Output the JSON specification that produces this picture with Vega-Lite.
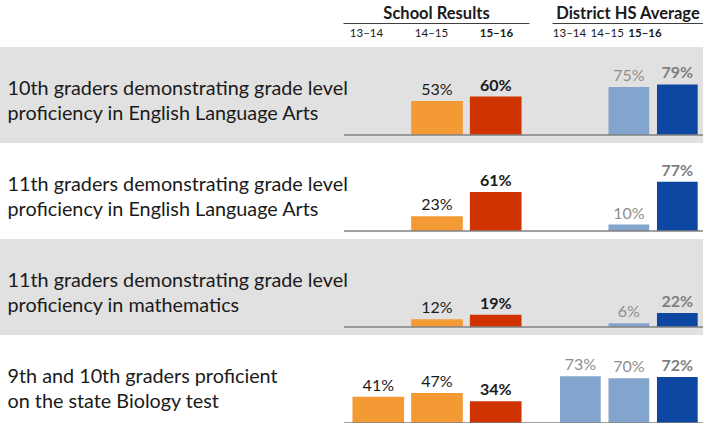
{
  "$schema": "https://vega.github.io/schema/vega-lite/v6.json",
  "width": 703,
  "height": 423,
  "padding": 0,
  "autosize": {"type": "none"},
  "config": {"view": {"stroke": null}, "axis": {"grid": false}},
  "data": {
    "values": [
      {"m": 1, "measure": "10th graders demonstrating grade level\nproficiency in English Language Arts", "group": "School", "year": "14–15", "value": 0.53},
      {"m": 1, "measure": "10th graders demonstrating grade level\nproficiency in English Language Arts", "group": "School", "year": "15–16", "value": 0.60},
      {"m": 1, "measure": "10th graders demonstrating grade level\nproficiency in English Language Arts", "group": "District", "year": "14–15", "value": 0.75},
      {"m": 1, "measure": "10th graders demonstrating grade level\nproficiency in English Language Arts", "group": "District", "year": "15–16", "value": 0.79},
      {"m": 2, "measure": "11th graders demonstrating grade level\nproficiency in English Language Arts", "group": "School", "year": "14–15", "value": 0.23},
      {"m": 2, "measure": "11th graders demonstrating grade level\nproficiency in English Language Arts", "group": "School", "year": "15–16", "value": 0.61},
      {"m": 2, "measure": "11th graders demonstrating grade level\nproficiency in English Language Arts", "group": "District", "year": "14–15", "value": 0.10},
      {"m": 2, "measure": "11th graders demonstrating grade level\nproficiency in English Language Arts", "group": "District", "year": "15–16", "value": 0.77},
      {"m": 3, "measure": "11th graders demonstrating grade level\nproficiency in mathematics", "group": "School", "year": "14–15", "value": 0.12},
      {"m": 3, "measure": "11th graders demonstrating grade level\nproficiency in mathematics", "group": "School", "year": "15–16", "value": 0.19},
      {"m": 3, "measure": "11th graders demonstrating grade level\nproficiency in mathematics", "group": "District", "year": "14–15", "value": 0.06},
      {"m": 3, "measure": "11th graders demonstrating grade level\nproficiency in mathematics", "group": "District", "year": "15–16", "value": 0.22},
      {"m": 4, "measure": "9th and 10th graders proficient\non the state Biology test", "group": "School", "year": "13–14", "value": 0.41},
      {"m": 4, "measure": "9th and 10th graders proficient\non the state Biology test", "group": "School", "year": "14–15", "value": 0.47},
      {"m": 4, "measure": "9th and 10th graders proficient\non the state Biology test", "group": "School", "year": "15–16", "value": 0.34},
      {"m": 4, "measure": "9th and 10th graders proficient\non the state Biology test", "group": "District", "year": "13–14", "value": 0.73},
      {"m": 4, "measure": "9th and 10th graders proficient\non the state Biology test", "group": "District", "year": "14–15", "value": 0.70},
      {"m": 4, "measure": "9th and 10th graders proficient\non the state Biology test", "group": "District", "year": "15–16", "value": 0.72}
    ]
  },
  "layer": [
    {
      "transform": [{"filter": "datum.group === 'District' && datum.year === '15–16'"}],
      "mark": {"type": "rect"},
      "encoding": {
        "y": {"field": "measure", "type": "nominal", "sort": {"field": "m", "op": "min"},
          "scale": {"range": [47, 431], "paddingInner": 0, "paddingOuter": 0},
          "axis": {"orient": "left", "title": null, "domain": false, "ticks": false, "tickSize": 0, "labelAlign": "left", "labelBaseline": "alphabetic", "labelPadding": -7, "labelFont": "Lato", "labelFontSize": 19.8, "labelColor": "#1a1a1a", "labelLimit": 400, "labelLineHeight": 24.5, "labelOverlap": false, "labelBound": false, "labelAngle": 0, "labelExpr": "split(datum.label, '\\n')"}},
        "color": {"field": "measure", "type": "nominal", "sort": {"field": "m", "op": "min"}, "scale": {"range": ["#e1e1e1", "#ffffff", "#e1e1e1", "#ffffff"]}, "legend": null}
      }
    },
    {
      "transform": [{"filter": "datum.group === 'School'"}],
      "mark": {"type": "point", "opacity": 0},
      "encoding": {
        "x": {"field": "year", "type": "nominal",
          "scale": {"type": "point", "domain": ["13–14", "14–15", "15–16"], "range": [343, 529], "padding": 0.431, "align": 0.41},
          "axis": {"orient": "top", "offset": -23, "title": "School Results", "titleFont": "Lato", "titleFontSize": 16.5, "titleFontWeight": "bold", "titleColor": "#1a1a1a", "titleY": -5, "titleBaseline": "alphabetic", "titleLimit": 300,
            "labelFont": "Lato", "labelFontSize": 11.5, "labelColor": "#1a1a1a", "labelPadding": -10.5, "labelBaseline": "middle", "labelAngle": 0,
            "labelFontWeight": {"condition": {"test": "datum.value === '15–16'", "value": "bold"}, "value": "normal"},
            "ticks": false, "tickSize": 0, "domainColor": "#404040", "domainWidth": 1}}
      }
    },
    {
      "transform": [{"filter": "datum.group === 'District'"}],
      "mark": {"type": "point", "opacity": 0},
      "encoding": {
        "x": {"field": "year", "type": "nominal",
          "scale": {"type": "point", "domain": ["13–14", "14–15", "15–16"], "range": [552, 703], "padding": 1.127, "align": 0.225},
          "axis": {"orient": "top", "offset": -23, "title": "District HS Average", "titleFont": "Lato", "titleFontSize": 16.5, "titleFontWeight": "bold", "titleColor": "#1a1a1a", "titleY": -5, "titleBaseline": "alphabetic", "titleLimit": 300,
            "labelFont": "Lato", "labelFontSize": 11.5, "labelColor": "#1a1a1a", "labelPadding": -10.5, "labelBaseline": "middle", "labelAngle": 0,
            "labelFontWeight": {"condition": {"test": "datum.value === '15–16'", "value": "bold"}, "value": "normal"},
            "ticks": false, "tickSize": 0, "domainColor": "#404040", "domainWidth": 1}}
      }
    },

    {"transform": [{"filter": "datum.m === 1 && datum.group === 'School'"}], "mark": "bar",
     "encoding": {"x": {"field": "year", "type": "nominal", "scale": {"type": "band", "domain": ["13–14", "14–15", "15–16"], "range": [344, 530], "paddingInner": 0.12, "paddingOuter": 0.144}, "axis": null},
       "y": {"field": "value", "type": "quantitative", "scale": {"domain": [0, 1], "range": [135, 71], "nice": false}, "axis": null},
       "color": {"field": "year", "type": "nominal", "scale": {"domain": ["13–14", "14–15", "15–16"], "range": ["#F39A35", "#F39A35", "#CF3300"]}, "legend": null}}},
    {"transform": [{"filter": "datum.m === 1 && datum.group === 'School' && datum.year !== '15–16'"}], "mark": {"type": "text", "baseline": "alphabetic", "dy": -6, "font": "Lato", "fontSize": 16, "color": "#1a1a1a"},
     "encoding": {"x": {"field": "year", "type": "nominal", "scale": {"type": "band", "domain": ["13–14", "14–15", "15–16"], "range": [344, 530], "paddingInner": 0.12, "paddingOuter": 0.144}, "axis": null},
       "y": {"field": "value", "type": "quantitative", "scale": {"domain": [0, 1], "range": [135, 71], "nice": false}, "axis": null},
       "text": {"field": "value", "type": "quantitative", "format": ".0%"}}},
    {"transform": [{"filter": "datum.m === 1 && datum.group === 'School' && datum.year === '15–16'"}], "mark": {"type": "text", "baseline": "alphabetic", "dy": -6, "font": "Lato", "fontSize": 16, "fontWeight": "bold", "color": "#1a1a1a"},
     "encoding": {"x": {"field": "year", "type": "nominal", "scale": {"type": "band", "domain": ["13–14", "14–15", "15–16"], "range": [344, 530], "paddingInner": 0.12, "paddingOuter": 0.144}, "axis": null},
       "y": {"field": "value", "type": "quantitative", "scale": {"domain": [0, 1], "range": [135, 71], "nice": false}, "axis": null},
       "text": {"field": "value", "type": "quantitative", "format": ".0%"}}},
    {"transform": [{"filter": "datum.m === 1 && datum.group === 'District'"}], "mark": "bar",
     "encoding": {"x": {"field": "year", "type": "nominal", "scale": {"type": "band", "domain": ["13–14", "14–15", "15–16"], "range": [530, 703], "paddingInner": 0.16, "paddingOuter": 0.364, "align": 0.85}, "axis": null},
       "y": {"field": "value", "type": "quantitative", "scale": {"domain": [0, 1], "range": [135, 71], "nice": false}, "axis": null},
       "color": {"field": "year", "type": "nominal", "scale": {"domain": ["13–14", "14–15", "15–16"], "range": ["#83A4CC", "#83A4CC", "#0D47A1"]}, "legend": null}}},
    {"transform": [{"filter": "datum.m === 1 && datum.group === 'District' && datum.year !== '15–16'"}], "mark": {"type": "text", "baseline": "alphabetic", "dy": -6, "font": "Lato", "fontSize": 16, "color": "#8f8f8f"},
     "encoding": {"x": {"field": "year", "type": "nominal", "scale": {"type": "band", "domain": ["13–14", "14–15", "15–16"], "range": [530, 703], "paddingInner": 0.16, "paddingOuter": 0.364, "align": 0.85}, "axis": null},
       "y": {"field": "value", "type": "quantitative", "scale": {"domain": [0, 1], "range": [135, 71], "nice": false}, "axis": null},
       "text": {"field": "value", "type": "quantitative", "format": ".0%"}}},
    {"transform": [{"filter": "datum.m === 1 && datum.group === 'District' && datum.year === '15–16'"}], "mark": {"type": "text", "baseline": "alphabetic", "dy": -6, "font": "Lato", "fontSize": 16, "fontWeight": "bold", "color": "#7f7f7f"},
     "encoding": {"x": {"field": "year", "type": "nominal", "scale": {"type": "band", "domain": ["13–14", "14–15", "15–16"], "range": [530, 703], "paddingInner": 0.16, "paddingOuter": 0.364, "align": 0.85}, "axis": null},
       "y": {"field": "value", "type": "quantitative", "scale": {"domain": [0, 1], "range": [135, 71], "nice": false}, "axis": null},
       "text": {"field": "value", "type": "quantitative", "format": ".0%"}}},

    {"transform": [{"filter": "datum.m === 2 && datum.group === 'School'"}], "mark": "bar",
     "encoding": {"x": {"field": "year", "type": "nominal", "scale": {"type": "band", "domain": ["13–14", "14–15", "15–16"], "range": [344, 530], "paddingInner": 0.12, "paddingOuter": 0.144}, "axis": null},
       "y": {"field": "value", "type": "quantitative", "scale": {"domain": [0, 1], "range": [231, 167], "nice": false}, "axis": null},
       "color": {"field": "year", "type": "nominal", "scale": {"domain": ["13–14", "14–15", "15–16"], "range": ["#F39A35", "#F39A35", "#CF3300"]}, "legend": null}}},
    {"transform": [{"filter": "datum.m === 2 && datum.group === 'School' && datum.year !== '15–16'"}], "mark": {"type": "text", "baseline": "alphabetic", "dy": -6, "font": "Lato", "fontSize": 16, "color": "#1a1a1a"},
     "encoding": {"x": {"field": "year", "type": "nominal", "scale": {"type": "band", "domain": ["13–14", "14–15", "15–16"], "range": [344, 530], "paddingInner": 0.12, "paddingOuter": 0.144}, "axis": null},
       "y": {"field": "value", "type": "quantitative", "scale": {"domain": [0, 1], "range": [231, 167], "nice": false}, "axis": null},
       "text": {"field": "value", "type": "quantitative", "format": ".0%"}}},
    {"transform": [{"filter": "datum.m === 2 && datum.group === 'School' && datum.year === '15–16'"}], "mark": {"type": "text", "baseline": "alphabetic", "dy": -6, "font": "Lato", "fontSize": 16, "fontWeight": "bold", "color": "#1a1a1a"},
     "encoding": {"x": {"field": "year", "type": "nominal", "scale": {"type": "band", "domain": ["13–14", "14–15", "15–16"], "range": [344, 530], "paddingInner": 0.12, "paddingOuter": 0.144}, "axis": null},
       "y": {"field": "value", "type": "quantitative", "scale": {"domain": [0, 1], "range": [231, 167], "nice": false}, "axis": null},
       "text": {"field": "value", "type": "quantitative", "format": ".0%"}}},
    {"transform": [{"filter": "datum.m === 2 && datum.group === 'District'"}], "mark": "bar",
     "encoding": {"x": {"field": "year", "type": "nominal", "scale": {"type": "band", "domain": ["13–14", "14–15", "15–16"], "range": [530, 703], "paddingInner": 0.16, "paddingOuter": 0.364, "align": 0.85}, "axis": null},
       "y": {"field": "value", "type": "quantitative", "scale": {"domain": [0, 1], "range": [231, 167], "nice": false}, "axis": null},
       "color": {"field": "year", "type": "nominal", "scale": {"domain": ["13–14", "14–15", "15–16"], "range": ["#83A4CC", "#83A4CC", "#0D47A1"]}, "legend": null}}},
    {"transform": [{"filter": "datum.m === 2 && datum.group === 'District' && datum.year !== '15–16'"}], "mark": {"type": "text", "baseline": "alphabetic", "dy": -6, "font": "Lato", "fontSize": 16, "color": "#8f8f8f"},
     "encoding": {"x": {"field": "year", "type": "nominal", "scale": {"type": "band", "domain": ["13–14", "14–15", "15–16"], "range": [530, 703], "paddingInner": 0.16, "paddingOuter": 0.364, "align": 0.85}, "axis": null},
       "y": {"field": "value", "type": "quantitative", "scale": {"domain": [0, 1], "range": [231, 167], "nice": false}, "axis": null},
       "text": {"field": "value", "type": "quantitative", "format": ".0%"}}},
    {"transform": [{"filter": "datum.m === 2 && datum.group === 'District' && datum.year === '15–16'"}], "mark": {"type": "text", "baseline": "alphabetic", "dy": -6, "font": "Lato", "fontSize": 16, "fontWeight": "bold", "color": "#7f7f7f"},
     "encoding": {"x": {"field": "year", "type": "nominal", "scale": {"type": "band", "domain": ["13–14", "14–15", "15–16"], "range": [530, 703], "paddingInner": 0.16, "paddingOuter": 0.364, "align": 0.85}, "axis": null},
       "y": {"field": "value", "type": "quantitative", "scale": {"domain": [0, 1], "range": [231, 167], "nice": false}, "axis": null},
       "text": {"field": "value", "type": "quantitative", "format": ".0%"}}},

    {"transform": [{"filter": "datum.m === 3 && datum.group === 'School'"}], "mark": "bar",
     "encoding": {"x": {"field": "year", "type": "nominal", "scale": {"type": "band", "domain": ["13–14", "14–15", "15–16"], "range": [344, 530], "paddingInner": 0.12, "paddingOuter": 0.144}, "axis": null},
       "y": {"field": "value", "type": "quantitative", "scale": {"domain": [0, 1], "range": [327, 263], "nice": false}, "axis": null},
       "color": {"field": "year", "type": "nominal", "scale": {"domain": ["13–14", "14–15", "15–16"], "range": ["#F39A35", "#F39A35", "#CF3300"]}, "legend": null}}},
    {"transform": [{"filter": "datum.m === 3 && datum.group === 'School' && datum.year !== '15–16'"}], "mark": {"type": "text", "baseline": "alphabetic", "dy": -6, "font": "Lato", "fontSize": 16, "color": "#1a1a1a"},
     "encoding": {"x": {"field": "year", "type": "nominal", "scale": {"type": "band", "domain": ["13–14", "14–15", "15–16"], "range": [344, 530], "paddingInner": 0.12, "paddingOuter": 0.144}, "axis": null},
       "y": {"field": "value", "type": "quantitative", "scale": {"domain": [0, 1], "range": [327, 263], "nice": false}, "axis": null},
       "text": {"field": "value", "type": "quantitative", "format": ".0%"}}},
    {"transform": [{"filter": "datum.m === 3 && datum.group === 'School' && datum.year === '15–16'"}], "mark": {"type": "text", "baseline": "alphabetic", "dy": -6, "font": "Lato", "fontSize": 16, "fontWeight": "bold", "color": "#1a1a1a"},
     "encoding": {"x": {"field": "year", "type": "nominal", "scale": {"type": "band", "domain": ["13–14", "14–15", "15–16"], "range": [344, 530], "paddingInner": 0.12, "paddingOuter": 0.144}, "axis": null},
       "y": {"field": "value", "type": "quantitative", "scale": {"domain": [0, 1], "range": [327, 263], "nice": false}, "axis": null},
       "text": {"field": "value", "type": "quantitative", "format": ".0%"}}},
    {"transform": [{"filter": "datum.m === 3 && datum.group === 'District'"}], "mark": "bar",
     "encoding": {"x": {"field": "year", "type": "nominal", "scale": {"type": "band", "domain": ["13–14", "14–15", "15–16"], "range": [530, 703], "paddingInner": 0.16, "paddingOuter": 0.364, "align": 0.85}, "axis": null},
       "y": {"field": "value", "type": "quantitative", "scale": {"domain": [0, 1], "range": [327, 263], "nice": false}, "axis": null},
       "color": {"field": "year", "type": "nominal", "scale": {"domain": ["13–14", "14–15", "15–16"], "range": ["#83A4CC", "#83A4CC", "#0D47A1"]}, "legend": null}}},
    {"transform": [{"filter": "datum.m === 3 && datum.group === 'District' && datum.year !== '15–16'"}], "mark": {"type": "text", "baseline": "alphabetic", "dy": -6, "font": "Lato", "fontSize": 16, "color": "#8f8f8f"},
     "encoding": {"x": {"field": "year", "type": "nominal", "scale": {"type": "band", "domain": ["13–14", "14–15", "15–16"], "range": [530, 703], "paddingInner": 0.16, "paddingOuter": 0.364, "align": 0.85}, "axis": null},
       "y": {"field": "value", "type": "quantitative", "scale": {"domain": [0, 1], "range": [327, 263], "nice": false}, "axis": null},
       "text": {"field": "value", "type": "quantitative", "format": ".0%"}}},
    {"transform": [{"filter": "datum.m === 3 && datum.group === 'District' && datum.year === '15–16'"}], "mark": {"type": "text", "baseline": "alphabetic", "dy": -6, "font": "Lato", "fontSize": 16, "fontWeight": "bold", "color": "#7f7f7f"},
     "encoding": {"x": {"field": "year", "type": "nominal", "scale": {"type": "band", "domain": ["13–14", "14–15", "15–16"], "range": [530, 703], "paddingInner": 0.16, "paddingOuter": 0.364, "align": 0.85}, "axis": null},
       "y": {"field": "value", "type": "quantitative", "scale": {"domain": [0, 1], "range": [327, 263], "nice": false}, "axis": null},
       "text": {"field": "value", "type": "quantitative", "format": ".0%"}}},

    {"transform": [{"filter": "datum.m === 4 && datum.group === 'School'"}], "mark": "bar",
     "encoding": {"x": {"field": "year", "type": "nominal", "scale": {"type": "band", "domain": ["13–14", "14–15", "15–16"], "range": [344, 530], "paddingInner": 0.12, "paddingOuter": 0.144}, "axis": null},
       "y": {"field": "value", "type": "quantitative", "scale": {"domain": [0, 1], "range": [423, 359], "nice": false}, "axis": null},
       "color": {"field": "year", "type": "nominal", "scale": {"domain": ["13–14", "14–15", "15–16"], "range": ["#F39A35", "#F39A35", "#CF3300"]}, "legend": null}}},
    {"transform": [{"filter": "datum.m === 4 && datum.group === 'School' && datum.year !== '15–16'"}], "mark": {"type": "text", "baseline": "alphabetic", "dy": -6, "font": "Lato", "fontSize": 16, "color": "#1a1a1a"},
     "encoding": {"x": {"field": "year", "type": "nominal", "scale": {"type": "band", "domain": ["13–14", "14–15", "15–16"], "range": [344, 530], "paddingInner": 0.12, "paddingOuter": 0.144}, "axis": null},
       "y": {"field": "value", "type": "quantitative", "scale": {"domain": [0, 1], "range": [423, 359], "nice": false}, "axis": null},
       "text": {"field": "value", "type": "quantitative", "format": ".0%"}}},
    {"transform": [{"filter": "datum.m === 4 && datum.group === 'School' && datum.year === '15–16'"}], "mark": {"type": "text", "baseline": "alphabetic", "dy": -6, "font": "Lato", "fontSize": 16, "fontWeight": "bold", "color": "#1a1a1a"},
     "encoding": {"x": {"field": "year", "type": "nominal", "scale": {"type": "band", "domain": ["13–14", "14–15", "15–16"], "range": [344, 530], "paddingInner": 0.12, "paddingOuter": 0.144}, "axis": null},
       "y": {"field": "value", "type": "quantitative", "scale": {"domain": [0, 1], "range": [423, 359], "nice": false}, "axis": null},
       "text": {"field": "value", "type": "quantitative", "format": ".0%"}}},
    {"transform": [{"filter": "datum.m === 4 && datum.group === 'District'"}], "mark": "bar",
     "encoding": {"x": {"field": "year", "type": "nominal", "scale": {"type": "band", "domain": ["13–14", "14–15", "15–16"], "range": [530, 703], "paddingInner": 0.16, "paddingOuter": 0.364, "align": 0.85}, "axis": null},
       "y": {"field": "value", "type": "quantitative", "scale": {"domain": [0, 1], "range": [423, 359], "nice": false}, "axis": null},
       "color": {"field": "year", "type": "nominal", "scale": {"domain": ["13–14", "14–15", "15–16"], "range": ["#83A4CC", "#83A4CC", "#0D47A1"]}, "legend": null}}},
    {"transform": [{"filter": "datum.m === 4 && datum.group === 'District' && datum.year !== '15–16'"}], "mark": {"type": "text", "baseline": "alphabetic", "dy": -6, "font": "Lato", "fontSize": 16, "color": "#8f8f8f"},
     "encoding": {"x": {"field": "year", "type": "nominal", "scale": {"type": "band", "domain": ["13–14", "14–15", "15–16"], "range": [530, 703], "paddingInner": 0.16, "paddingOuter": 0.364, "align": 0.85}, "axis": null},
       "y": {"field": "value", "type": "quantitative", "scale": {"domain": [0, 1], "range": [423, 359], "nice": false}, "axis": null},
       "text": {"field": "value", "type": "quantitative", "format": ".0%"}}},
    {"transform": [{"filter": "datum.m === 4 && datum.group === 'District' && datum.year === '15–16'"}], "mark": {"type": "text", "baseline": "alphabetic", "dy": -6, "font": "Lato", "fontSize": 16, "fontWeight": "bold", "color": "#7f7f7f"},
     "encoding": {"x": {"field": "year", "type": "nominal", "scale": {"type": "band", "domain": ["13–14", "14–15", "15–16"], "range": [530, 703], "paddingInner": 0.16, "paddingOuter": 0.364, "align": 0.85}, "axis": null},
       "y": {"field": "value", "type": "quantitative", "scale": {"domain": [0, 1], "range": [423, 359], "nice": false}, "axis": null},
       "text": {"field": "value", "type": "quantitative", "format": ".0%"}}},

    {
      "transform": [{"filter": "datum.group === 'District' && datum.year === '15–16'"}],
      "mark": {"type": "rule", "color": "#808080", "strokeWidth": 1.3},
      "encoding": {
        "y": {"field": "measure", "type": "nominal", "sort": {"field": "m", "op": "min"}, "bandPosition": 0.9167,
          "scale": {"range": [47, 431], "paddingInner": 0, "paddingOuter": 0}, "axis": null},
        "x": {"datum": 0, "type": "quantitative", "scale": {"domain": [0, 1], "range": [344, 703]}, "axis": null},
        "x2": {"datum": 1}
      }
    }
  ],
  "resolve": {
    "scale": {"x": "independent", "y": "independent", "color": "independent"},
    "axis": {"x": "independent", "y": "independent"}
  }
}
